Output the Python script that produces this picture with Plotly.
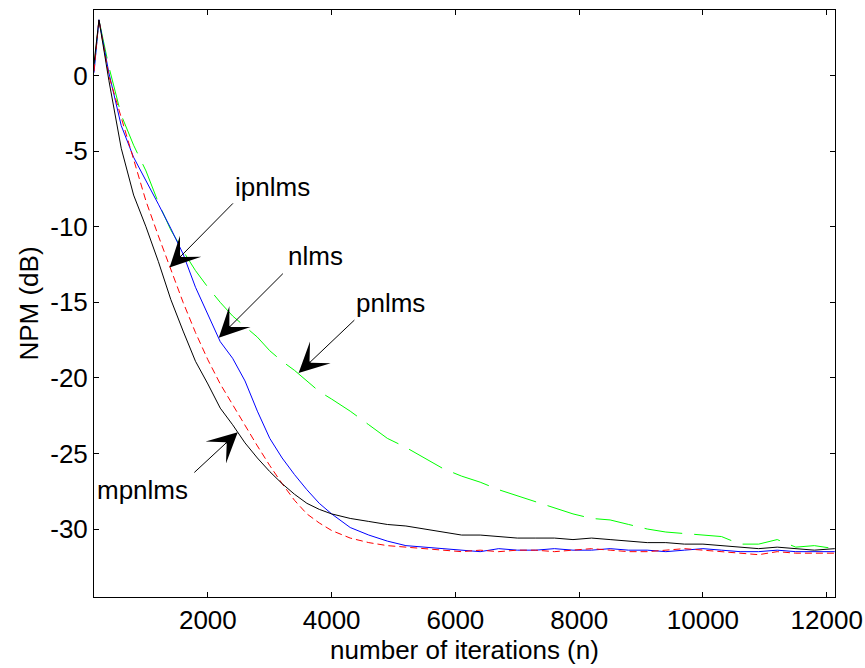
import plotly.graph_objects as go

iterations = [160, 240, 400, 600, 800, 1000, 1200, 1400, 1600, 1800, 2000, 2200, 2400, 2600,
              2800, 3000, 3200, 3400, 3600, 3800, 4000, 4300, 4600, 4900, 5200, 5500, 5800,
              6100, 6400, 6700, 7000, 7300, 7600, 7900, 8200, 8500, 8800, 9100, 9400, 9700,
              10000, 10300, 10600, 10900, 11200, 11500, 11800, 12130]

nlms = [0.2, 3.7, 0.2, -3.3, -5.4, -6.9, -8.5, -10.1, -11.8, -14.0, -15.8, -17.6, -18.7, -20.2,
        -22.2, -24.0, -25.3, -26.4, -27.4, -28.3, -29.0, -29.9, -30.4, -30.8, -31.1, -31.2, -31.3,
        -31.4, -31.5, -31.3, -31.4, -31.4, -31.3, -31.4, -31.4, -31.3, -31.4, -31.4, -31.5, -31.4,
        -31.3, -31.4, -31.5, -31.5, -31.4, -31.5, -31.5, -31.5]

ipnlms = [0.3, 3.7, 0.0, -2.8, -5.6, -8.3, -10.6, -12.8, -15.0, -17.0, -18.8, -20.4, -21.8, -23.2,
          -24.5, -25.8, -27.0, -28.1, -29.0, -29.6, -30.1, -30.6, -30.9, -31.1, -31.2, -31.3, -31.4,
          -31.5, -31.4, -31.5, -31.4, -31.4, -31.5, -31.4, -31.3, -31.4, -31.5, -31.5, -31.4, -31.3,
          -31.4, -31.5, -31.6, -31.7, -31.5, -31.6, -31.6, -31.6]

pnlms = [0.5, 3.7, 0.6, -2.6, -4.6, -6.3, -8.4, -10.2, -11.6, -12.9, -14.0, -15.0, -15.9, -16.6,
         -17.3, -18.2, -18.9, -19.5, -20.2, -20.9, -21.4, -22.2, -23.1, -24.0, -24.6, -25.3, -26.0,
         -26.5, -26.9, -27.4, -27.8, -28.2, -28.6, -29.0, -29.3, -29.4, -29.7, -30.0, -30.2, -30.3,
         -30.4, -30.5, -31.0, -31.0, -30.7, -31.2, -31.1, -31.3]

mpnlms = [0.8, 3.7, -0.3, -4.8, -7.9, -10.0, -12.3, -14.8, -16.9, -18.9, -20.4, -22.0, -23.1, -24.3,
          -25.3, -26.2, -27.0, -27.7, -28.3, -28.7, -29.0, -29.3, -29.5, -29.7, -29.8, -30.0, -30.2,
          -30.4, -30.4, -30.5, -30.6, -30.6, -30.6, -30.7, -30.6, -30.7, -30.8, -30.9, -30.9, -31.0,
          -31.0, -31.1, -31.2, -31.3, -31.2, -31.3, -31.4, -31.3]

x_ticks = [2000, 4000, 6000, 8000, 10000, 12000]
x_ticklabels = ["2000", "4000", "6000", "8000", "10000", "12000"]
y_ticks = [-30, -25, -20, -15, -10, -5, 0]
y_ticklabels = ["-30", "-25", "-20", "-15", "-10", "-5", "0"]

# annotation labels: text position, arrow tail and arrow head (data coordinates)
labels = ["ipnlms", "nlms", "pnlms", "mpnlms"]
label_pos = [(3039, -7.38), (3736, -11.95), (4950, -15.06), (945, -27.45)]
arrow_tail = [(2429, -8.35), (3236, -13.0), (4392, -16.08), (1757, -26.35)]
arrow_head = [(1381, -12.7), (2176, -17.34), (3466, -19.68), (2483, -23.59)]

FONT = "Arial, Liberation Sans, Helvetica, sans-serif"
FS = 26

fig = go.Figure()
fig.add_trace(go.Scatter(x=iterations, y=pnlms, mode="lines", name="pnlms",
                         line=dict(color="#00ff00", width=1, dash="38px,12px")))
fig.add_trace(go.Scatter(x=iterations, y=nlms, mode="lines", name="nlms",
                         line=dict(color="#0000ff", width=1)))
fig.add_trace(go.Scatter(x=iterations, y=ipnlms, mode="lines", name="ipnlms",
                         line=dict(color="#ff0000", width=1, dash="7px,4px")))
fig.add_trace(go.Scatter(x=iterations, y=mpnlms, mode="lines", name="mpnlms",
                         line=dict(color="#000000", width=1)))

annotations = []
for txt, (tx, ty), (ax, ay), (hx, hy) in zip(labels, label_pos, arrow_tail, arrow_head):
    annotations.append(dict(x=hx, y=hy, ax=ax, ay=ay, xref="x", yref="y", axref="x", ayref="y",
                            text="", showarrow=True, arrowhead=3, arrowsize=5, arrowwidth=1,
                            arrowcolor="black"))
    annotations.append(dict(x=tx, y=ty, xref="x", yref="y", text=txt, showarrow=False,
                            font=dict(family=FONT, size=FS, color="black")))

axis_common = dict(showline=True, linecolor="black", linewidth=1, mirror="ticks",
                   ticks="inside", ticklen=5, tickcolor="black", showgrid=False,
                   zeroline=False, automargin=False,
                   tickfont=dict(family=FONT, size=FS, color="black"))

fig.update_layout(
    width=865, height=668,
    margin=dict(l=94, r=30, t=10, b=71, autoexpand=False),
    paper_bgcolor="white", plot_bgcolor="white",
    showlegend=False,
    annotations=annotations,
    xaxis=dict(range=[160, 12134], tickvals=x_ticks, ticktext=x_ticklabels,
               title=dict(text="number of iterations (n)", standoff=4,
                          font=dict(family=FONT, size=FS, color="black")),
               **axis_common),
    yaxis=dict(range=[-34.5, 4.35], tickvals=y_ticks, ticktext=y_ticklabels,
               title=dict(text="NPM (dB)", standoff=4,
                          font=dict(family=FONT, size=FS, color="black")),
               **axis_common),
)

fig.write_html("out.html", config={"displayModeBar": False},
               post_script="document.body.style.margin='0';document.body.style.overflow='hidden';")
